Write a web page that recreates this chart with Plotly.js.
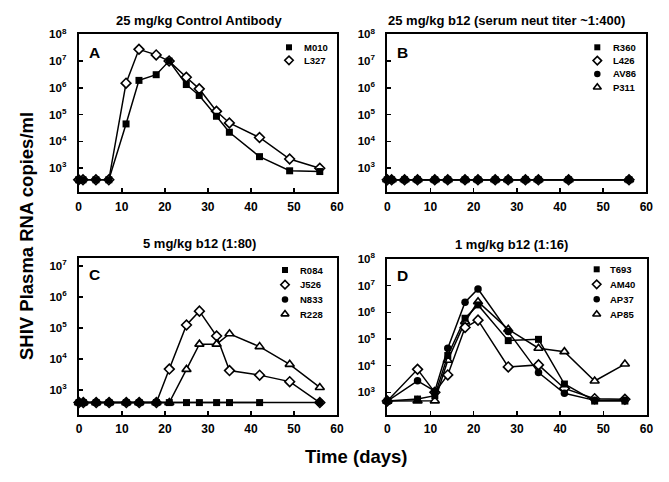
<!DOCTYPE html>
<html>
<head>
<meta charset="utf-8">
<script src="https://cdn.plot.ly/plotly-3.0.1.min.js"></script>
<style>html,body{margin:0;padding:0;background:#fff;}#chart{width:669px;height:482px;}</style>
</head>
<body>
<div id="chart"></div>
<script>
// ---------------- DATA ----------------
// Panel A: 25 mg/kg Control Antibody
const daysA = [0, 1, 4, 7, 11, 14, 18, 21, 25, 28, 32, 35, 42, 49, 56];
const M010 = [370, 370, 370, 370, 4.5e4, 1.9e6, 3.1e6, 1.0e7, 1.33e6, 5.2e5, 8.7e4, 2.2e4, 2.7e3, 800, 750];
const L327 = [370, 370, 370, 370, 1.5e6, 2.75e7, 1.7e7, 1.0e7, 2.5e6, 9.2e5, 1.33e5, 4.9e4, 1.4e4, 2.2e3, 1.0e3];

// Panel B: 25 mg/kg b12 (serum neut titer ~1:400)
const daysB = [0, 1, 4, 7, 11, 14, 18, 21, 25, 28, 32, 35, 42, 56];
const R360 = [370, 370, 370, 370, 370, 370, 370, 370, 370, 370, 370, 370, 370, 370];
const L426 = [370, 370, 370, 370, 370, 370, 370, 370, 370, 370, 370, 370, 370, 370];
const AV86 = [370, 370, 370, 370, 370, 370, 370, 370, 370, 370, 370, 370, 370, 370];
const P311 = [370, 370, 370, 370, 370, 370, 370, 370, 370, 370, 370, 370, 370, 370];

// Panel C: 5 mg/kg b12 (1:80)
const daysC = [0, 1, 4, 7, 11, 14, 18, 21, 25, 28, 32, 35, 42, 49, 56];
const daysC_R084 = [0, 1, 4, 7, 11, 14, 18, 21, 25, 28, 32, 35, 42];
const R084 = [390, 390, 390, 390, 390, 390, 390, 390, 390, 390, 390, 390, 390];
const J526 = [390, 390, 390, 390, 390, 390, 390, 4.7e3, 1.25e5, 3.5e5, 5.5e4, 4.2e3, 3.0e3, 1.85e3, 390];
const daysC_N833 = [0, 1, 4, 7, 11, 14, 18, 56];
const N833 = [390, 390, 390, 390, 390, 390, 390, 390];
const R228 = [390, 390, 390, 390, 390, 390, 390, 390, 4.6e3, 3.0e4, 3.0e4, 6.5e4, 2.5e4, 6.7e3, 1.2e3];

// Panel D: 1 mg/kg b12 (1:16)
const daysD = [0, 7, 11, 14, 18, 21, 28, 35, 41, 48, 55];
const T693 = [470, 560, 750, 2.4e4, 6.0e5, 1.9e6, 8.7e4, 9.7e4, 2.05e3, 470, 470];
const AM40 = [470, 7.3e3, 1.0e3, 4.5e3, 2.7e5, 5.1e5, 9.0e3, 1.07e4, 1.4e3, 580, 550];
const AP37 = [470, 2.7e3, 1.1e3, 4.5e4, 2.4e6, 7.5e6, 1.9e5, 5.5e3, 920, 500, 500];
const AP85 = [470, 480, 480, 1.6e4, 4.5e5, 2.5e6, 2.3e5, 4.5e4, 3.35e4, 2.66e3, 1.15e4];

// Tick labels
const xTicks = [0, 10, 20, 30, 40, 50, 60];
const yTickVals8 = [1e3, 1e4, 1e5, 1e6, 1e7, 1e8];
const yTickText8 = ['10<sup>3</sup>', '10<sup>4</sup>', '10<sup>5</sup>', '10<sup>6</sup>', '10<sup>7</sup>', '10<sup>8</sup>'];
const yTickVals7 = [1e3, 1e4, 1e5, 1e6, 1e7];
const yTickText7 = ['10<sup>3</sup>', '10<sup>4</sup>', '10<sup>5</sup>', '10<sup>6</sup>', '10<sup>7</sup>'];

// Text
const panelTitles = ['25 mg/kg Control Antibody', '25 mg/kg b12 (serum neut titer ~1:400)', '5 mg/kg b12 (1:80)', '1 mg/kg b12 (1:16)'];
const panelLetters = ['A', 'B', 'C', 'D'];
const namesA = ['M010', 'L327'];
const namesB = ['R360', 'L426', 'AV86', 'P311'];
const namesC = ['R084', 'J526', 'N833', 'R228'];
const namesD = ['T693', 'AM40', 'AP37', 'AP85'];
const xTitle = 'Time (days)';
const yTitle = 'SHIV Plasma RNA copies/ml';

// ---------------- STYLE / LAYOUT ----------------
const FONT = 'Liberation Sans, Arial, Helvetica, sans-serif';
const W = 669, H = 482;
const SYM = {
  square: {symbol: 'square', size: 7, color: '#000', line: {color: '#000', width: 0}},
  diamond: {symbol: 'diamond', size: 7.5, color: '#fff', line: {color: '#000', width: 1.6}},
  circle: {symbol: 'circle', size: 7.5, color: '#000', line: {color: '#000', width: 0}},
  triangle: {symbol: 'triangle-up', size: 8, color: '#fff', line: {color: '#000', width: 1.6}}
};
const symOrder = ['square', 'diamond', 'circle', 'triangle'];

function series(x, y, sym, xa, ya, name) {
  const s = SYM[sym];
  return {
    type: 'scatter', mode: 'lines+markers', x: x, y: y, name: name,
    xaxis: xa, yaxis: ya, showlegend: false, cliponaxis: false,
    line: {color: '#000', width: 1.5},
    marker: {symbol: s.symbol, size: s.size, color: s.color, line: s.line},
    hoverinfo: 'x+y+name'
  };
}

// Panel boxes in pixels [left, right, top, bottom]
const boxes = {
  A: [78.7, 337, 34.3, 192.3],
  B: [387.3, 646.3, 34.3, 192.3],
  C: [79, 337, 258.3, 415],
  D: [387.3, 646.5, 259, 415]
};
function dom(b) {
  return {x: [b[0] / W, b[1] / W], y: [1 - b[3] / H, 1 - b[2] / H]};
}
const tickFont = {family: FONT, size: 12, color: '#000', weight: 'bold'};
function xax(b, anchor) {
  return {
    domain: dom(b).x, anchor: anchor, range: [0, 60], tickvals: xTicks,
    ticks: 'inside', ticklen: 4, tickwidth: 1.5, tickcolor: '#000',
    showline: true, linewidth: 2, linecolor: '#000', mirror: true,
    showgrid: false, zeroline: false, tickfont: tickFont, ticklabelstandoff: 2
  };
}
function yax(b, anchor, range, vals, text) {
  return {
    domain: dom(b).y, anchor: anchor, type: 'log', range: range,
    tickvals: vals, ticktext: text,
    ticks: 'inside', ticklen: 4, tickwidth: 1.5, tickcolor: '#000',
    showline: true, linewidth: 2, linecolor: '#000', mirror: true,
    showgrid: false, zeroline: false,
    tickfont: {family: FONT, size: 11.5, color: '#000', weight: 'bold'},
    ticklabelstandoff: 8
  };
}

const traces = [];
// Panel A (diamond under square)
traces.push(series(daysA, L327, 'diamond', 'x', 'y', 'L327'));
traces.push(series(daysA, M010, 'square', 'x', 'y', 'M010'));
// Panel B
traces.push(series(daysB, P311, 'triangle', 'x2', 'y2', 'P311'));
traces.push(series(daysB, L426, 'diamond', 'x2', 'y2', 'L426'));
traces.push(series(daysB, AV86, 'circle', 'x2', 'y2', 'AV86'));
traces.push(series(daysB, R360, 'square', 'x2', 'y2', 'R360'));
// Panel C
traces.push(series(daysC, J526, 'diamond', 'x3', 'y3', 'J526'));
traces.push(series(daysC, R228, 'triangle', 'x3', 'y3', 'R228'));
traces.push(series(daysC_R084, R084, 'square', 'x3', 'y3', 'R084'));
traces.push(series(daysC_N833, N833, 'circle', 'x3', 'y3', 'N833'));
// Panel D
traces.push(series(daysD, AP85, 'triangle', 'x4', 'y4', 'AP85'));
traces.push(series(daysD, AM40, 'diamond', 'x4', 'y4', 'AM40'));
traces.push(series(daysD, T693, 'square', 'x4', 'y4', 'T693'));
traces.push(series(daysD, AP37, 'circle', 'x4', 'y4', 'AP37'));

// Custom legends (key symbol + label), positioned in pixel space on overlay axis
const legends = [
  {names: namesA, sx: 289, tx: 302, y0: 47.3, dy: 13},
  {names: namesB, sx: 597.3, tx: 610.5, y0: 47.3, dy: 13.3},
  {names: namesC, sx: 285, tx: 297.5, y0: 270, dy: 14.7},
  {names: namesD, sx: 596.7, tx: 608.3, y0: 269.3, dy: 15}
];
const annotations = [];
function ann(text, x, y, size, opts) {
  return Object.assign({
    text: '<b>' + text + '</b>', x: x, y: y, xref: 'x9', yref: 'y9',
    showarrow: false, xanchor: 'center', yanchor: 'middle',
    font: {family: FONT, size: size, color: '#000'}
  }, opts || {});
}
legends.forEach(function (lg) {
  lg.names.forEach(function (nm, i) {
    const s = SYM[symOrder[i]];
    const yy = lg.y0 + lg.dy * i;
    traces.push({
      type: 'scatter', mode: 'markers', x: [lg.sx], y: [yy], xaxis: 'x9', yaxis: 'y9',
      showlegend: false, hoverinfo: 'skip', cliponaxis: false,
      marker: {symbol: s.symbol, size: s.size - 1, color: s.color, line: s.line}
    });
    annotations.push(ann(nm, lg.tx, yy, 9.5, {xanchor: 'left'}));
  });
});

// Panel titles and letters
const titlePos = [[198.7, 20.5], [506.7, 20.5], [199.5, 243.3], [511.7, 244]];
const letterPos = [[94.2, 52], [402.5, 52], [94.7, 274.3], [402, 275]];
panelTitles.forEach(function (t, i) { annotations.push(ann(t, titlePos[i][0], titlePos[i][1], 13)); });
panelLetters.forEach(function (t, i) { annotations.push(ann(t, letterPos[i][0], letterPos[i][1], 15.5)); });
annotations.push(ann(xTitle, 356, 456.5, 18.5));
annotations.push(ann(yTitle, 26, 236, 18.5, {textangle: -90}));

const layout = {
  width: W, height: H,
  margin: {l: 0, r: 0, t: 0, b: 0},
  paper_bgcolor: '#fff', plot_bgcolor: 'rgba(0,0,0,0)',
  showlegend: false,
  font: {family: FONT, color: '#000'},
  xaxis: xax(boxes.A, 'y'),
  yaxis: yax(boxes.A, 'x', [2.1, 8], yTickVals8, yTickText8),
  xaxis2: xax(boxes.B, 'y2'),
  yaxis2: yax(boxes.B, 'x2', [2.1, 8], yTickVals8, yTickText8),
  xaxis3: xax(boxes.C, 'y3'),
  yaxis3: yax(boxes.C, 'x3', [2.19, 7.25], yTickVals7, yTickText7),
  xaxis4: xax(boxes.D, 'y4'),
  yaxis4: yax(boxes.D, 'x4', [2.15, 8], yTickVals8, yTickText8),
  xaxis9: {domain: [0, 1], anchor: 'y9', range: [0, W], visible: false, fixedrange: true},
  yaxis9: {domain: [0, 1], anchor: 'x9', range: [H, 0], visible: false, fixedrange: true},
  annotations: annotations
};

Plotly.newPlot('chart', traces, layout, {displayModeBar: false, staticPlot: true});
</script>
</body>
</html>
